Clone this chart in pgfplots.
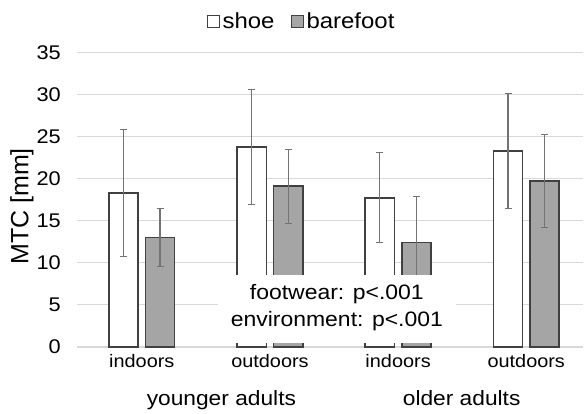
\documentclass[border=0pt]{standalone}
\usepackage{fontspec}
\setmainfont[FakeStretch=1.1]{Liberation Sans}
\newfontfamily\plainsans{Liberation Sans}
\usepackage{pgfplots}
\pgfplotsset{compat=1.18}
\definecolor{edge}{HTML}{404040}
\definecolor{barefill}{HTML}{A5A5A5}
\definecolor{errc}{HTML}{737373}
\definecolor{gridc}{HTML}{D9D9D9}
\begin{document}
\begin{tikzpicture}
\begin{axis}[
  at={(0,0)}, anchor=south west,
  scale only axis, width=506.7pt, height=295pt,
  xmin=-0.504, xmax=3.446, ymin=0, ymax=35,
  ytick={0,5,...,35},
  xtick={0,1,2,3},
  xticklabels={indoors,outdoors,indoors,outdoors},
  /pgf/number format/assume math mode=true,
  major tick length=0pt,
  axis line style={draw=none},
  ymajorgrids, major grid style={draw=gridc, line width=1.2pt},
  yticklabel style={font=\fontsize{19.8}{21}\selectfont, inner sep=0pt, xshift=-16.3pt},
  xticklabel style={font=\fontsize{18.1}{19}\selectfont, inner sep=0pt, anchor=base, yshift=-20.5pt},
  ybar, bar width=29.3pt,
  clip=false,
  legend columns=2,
  legend style={at={(0.442,1.104)}, anchor=center, draw=none, fill=none,
    font=\fontsize{21.8}{23}\selectfont, column sep=2.5pt, inner sep=0pt,
    nodes={inner xsep=0pt},
    /tikz/every even column/.append style={column sep=17pt}},
  legend image code/.code={\draw[#1, line width=1pt] (0pt,-5.8pt) rectangle (11.6pt,5.8pt);},
  error bars/error bar style={draw=errc, line width=1.1pt},
  error bars/error mark options={rotate=90, mark size=3.5pt, draw=errc, line width=1.1pt},
]
\addplot[fill=white, draw=edge, line width=1.6pt, bar shift=-18.25pt,
  error bars/.cd, y dir=both, y explicit]
  coordinates {(0,18.27) +- (0,7.57) (1,23.76) +- (0,6.84) (2,17.71) +- (0,5.34) (3,23.29) +- (0,6.8)};
\addlegendentry{shoe}
\addplot[fill=barefill, draw=edge, line width=1.6pt, bar shift=18.25pt,
  error bars/.cd, y dir=both, y explicit]
  coordinates {(0,13.0) +- (0,3.45) (1,19.1) +- (0,4.4) (2,12.41) +- (0,5.46) (3,19.73) +- (0,5.5)};
\addlegendentry{barefoot}
\fill[white] (axis cs:0.595,0.47) rectangle (axis cs:2.453,8.58);
\node[anchor=base, inner sep=0pt, font=\fontsize{20.9}{22}\selectfont] at (axis cs:1.522,5.61) {footwear: p<.001};
\node[anchor=base, inner sep=0pt, font=\fontsize{20.9}{22}\selectfont] at (axis cs:1.522,2.47) {environment: p<.001};
\node[anchor=base, inner sep=0pt, font=\fontsize{20.7}{22}\selectfont] at (axis cs:0.621,-6.95) {younger adults};
\node[anchor=base, inner sep=0pt, font=\fontsize{20.7}{22}\selectfont] at (axis cs:2.496,-6.95) {older adults};
\node[rotate=90, anchor=base, inner sep=0pt, font=\plainsans\fontsize{25}{27}\selectfont] at ([xshift=-49pt]rel axis cs:0,0.477) {MTC [mm]};
\end{axis}
\path[use as bounding box] (-77.3pt,-66.7pt) rectangle (506.7pt,347.3pt);
\end{tikzpicture}
\end{document}
